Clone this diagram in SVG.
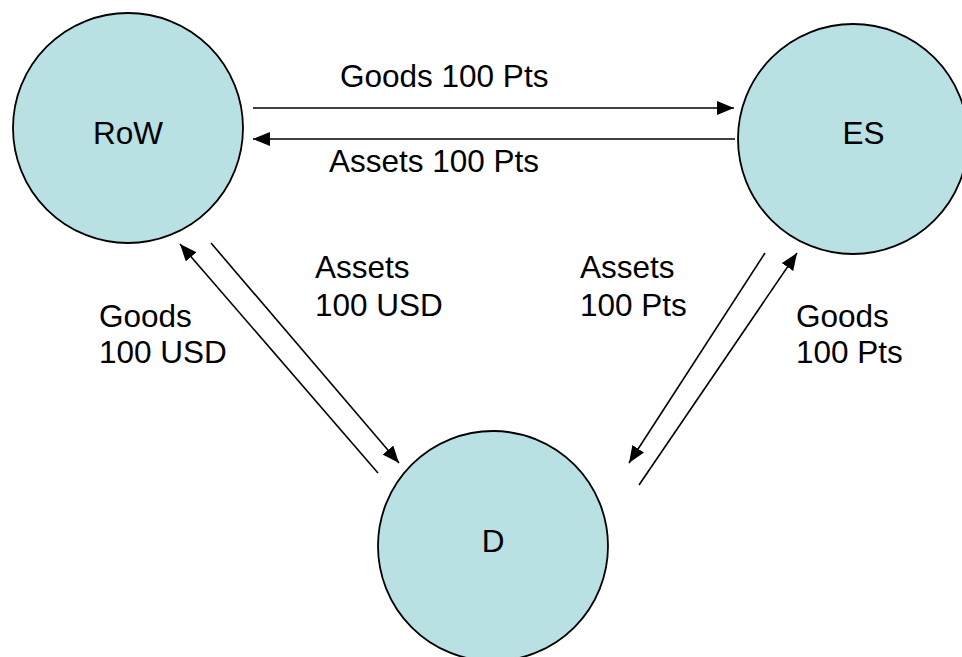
<svg xmlns="http://www.w3.org/2000/svg" width="962" height="657" viewBox="0 0 962 657">
<defs>
<marker id="ah" viewBox="0 0 17 14" refX="17" refY="7" markerWidth="17" markerHeight="14" markerUnits="userSpaceOnUse" orient="auto">
<path d="M0,0 L17,7 L0,14 Z" fill="#000"/>
</marker>
<style>
.node{fill:#b9e0e3;stroke:#000;stroke-width:1.8}
.lbl{font-family:"Liberation Sans",Arial,sans-serif;font-size:31.5px;fill:#000}
.c{fill:none;stroke:#000;stroke-width:1.6}
</style>
</defs>
<rect width="962" height="657" fill="#fff"/>
<g id="RoW">
<circle class="node" cx="128" cy="128" r="115"/>
<text class="lbl" x="128" y="144" text-anchor="middle">RoW</text>
</g>
<g id="ES">
<circle class="node" cx="853" cy="139" r="115"/>
<text class="lbl" x="863.5" y="144" text-anchor="middle">ES</text>
</g>
<g id="D">
<circle class="node" cx="493" cy="546" r="115"/>
<text class="lbl" x="493" y="552" text-anchor="middle">D</text>
</g>
<g id="connectors">
<line class="c" x1="253" y1="108" x2="734" y2="108" marker-end="url(#ah)"/>
<line class="c" x1="735" y1="139" x2="253" y2="139" marker-end="url(#ah)"/>
<line class="c" x1="378" y1="473" x2="180" y2="244" marker-end="url(#ah)"/>
<line class="c" x1="211" y1="243" x2="399" y2="463" marker-end="url(#ah)"/>
<line class="c" x1="765" y1="253" x2="629" y2="463" marker-end="url(#ah)"/>
<line class="c" x1="639" y1="485" x2="797" y2="253" marker-end="url(#ah)"/>
</g>
<g id="labels">
<text class="lbl" x="340" y="87">Goods 100 Pts</text>
<text class="lbl" x="329" y="172">Assets 100 Pts</text>
<text class="lbl" x="315" y="278">Assets</text>
<text class="lbl" x="315" y="316">100 USD</text>
<text class="lbl" x="99" y="327">Goods</text>
<text class="lbl" x="99" y="363">100 USD</text>
<text class="lbl" x="580" y="278">Assets</text>
<text class="lbl" x="580" y="316">100 Pts</text>
<text class="lbl" x="796" y="327">Goods</text>
<text class="lbl" x="796" y="363">100 Pts</text>
</g>
</svg>
